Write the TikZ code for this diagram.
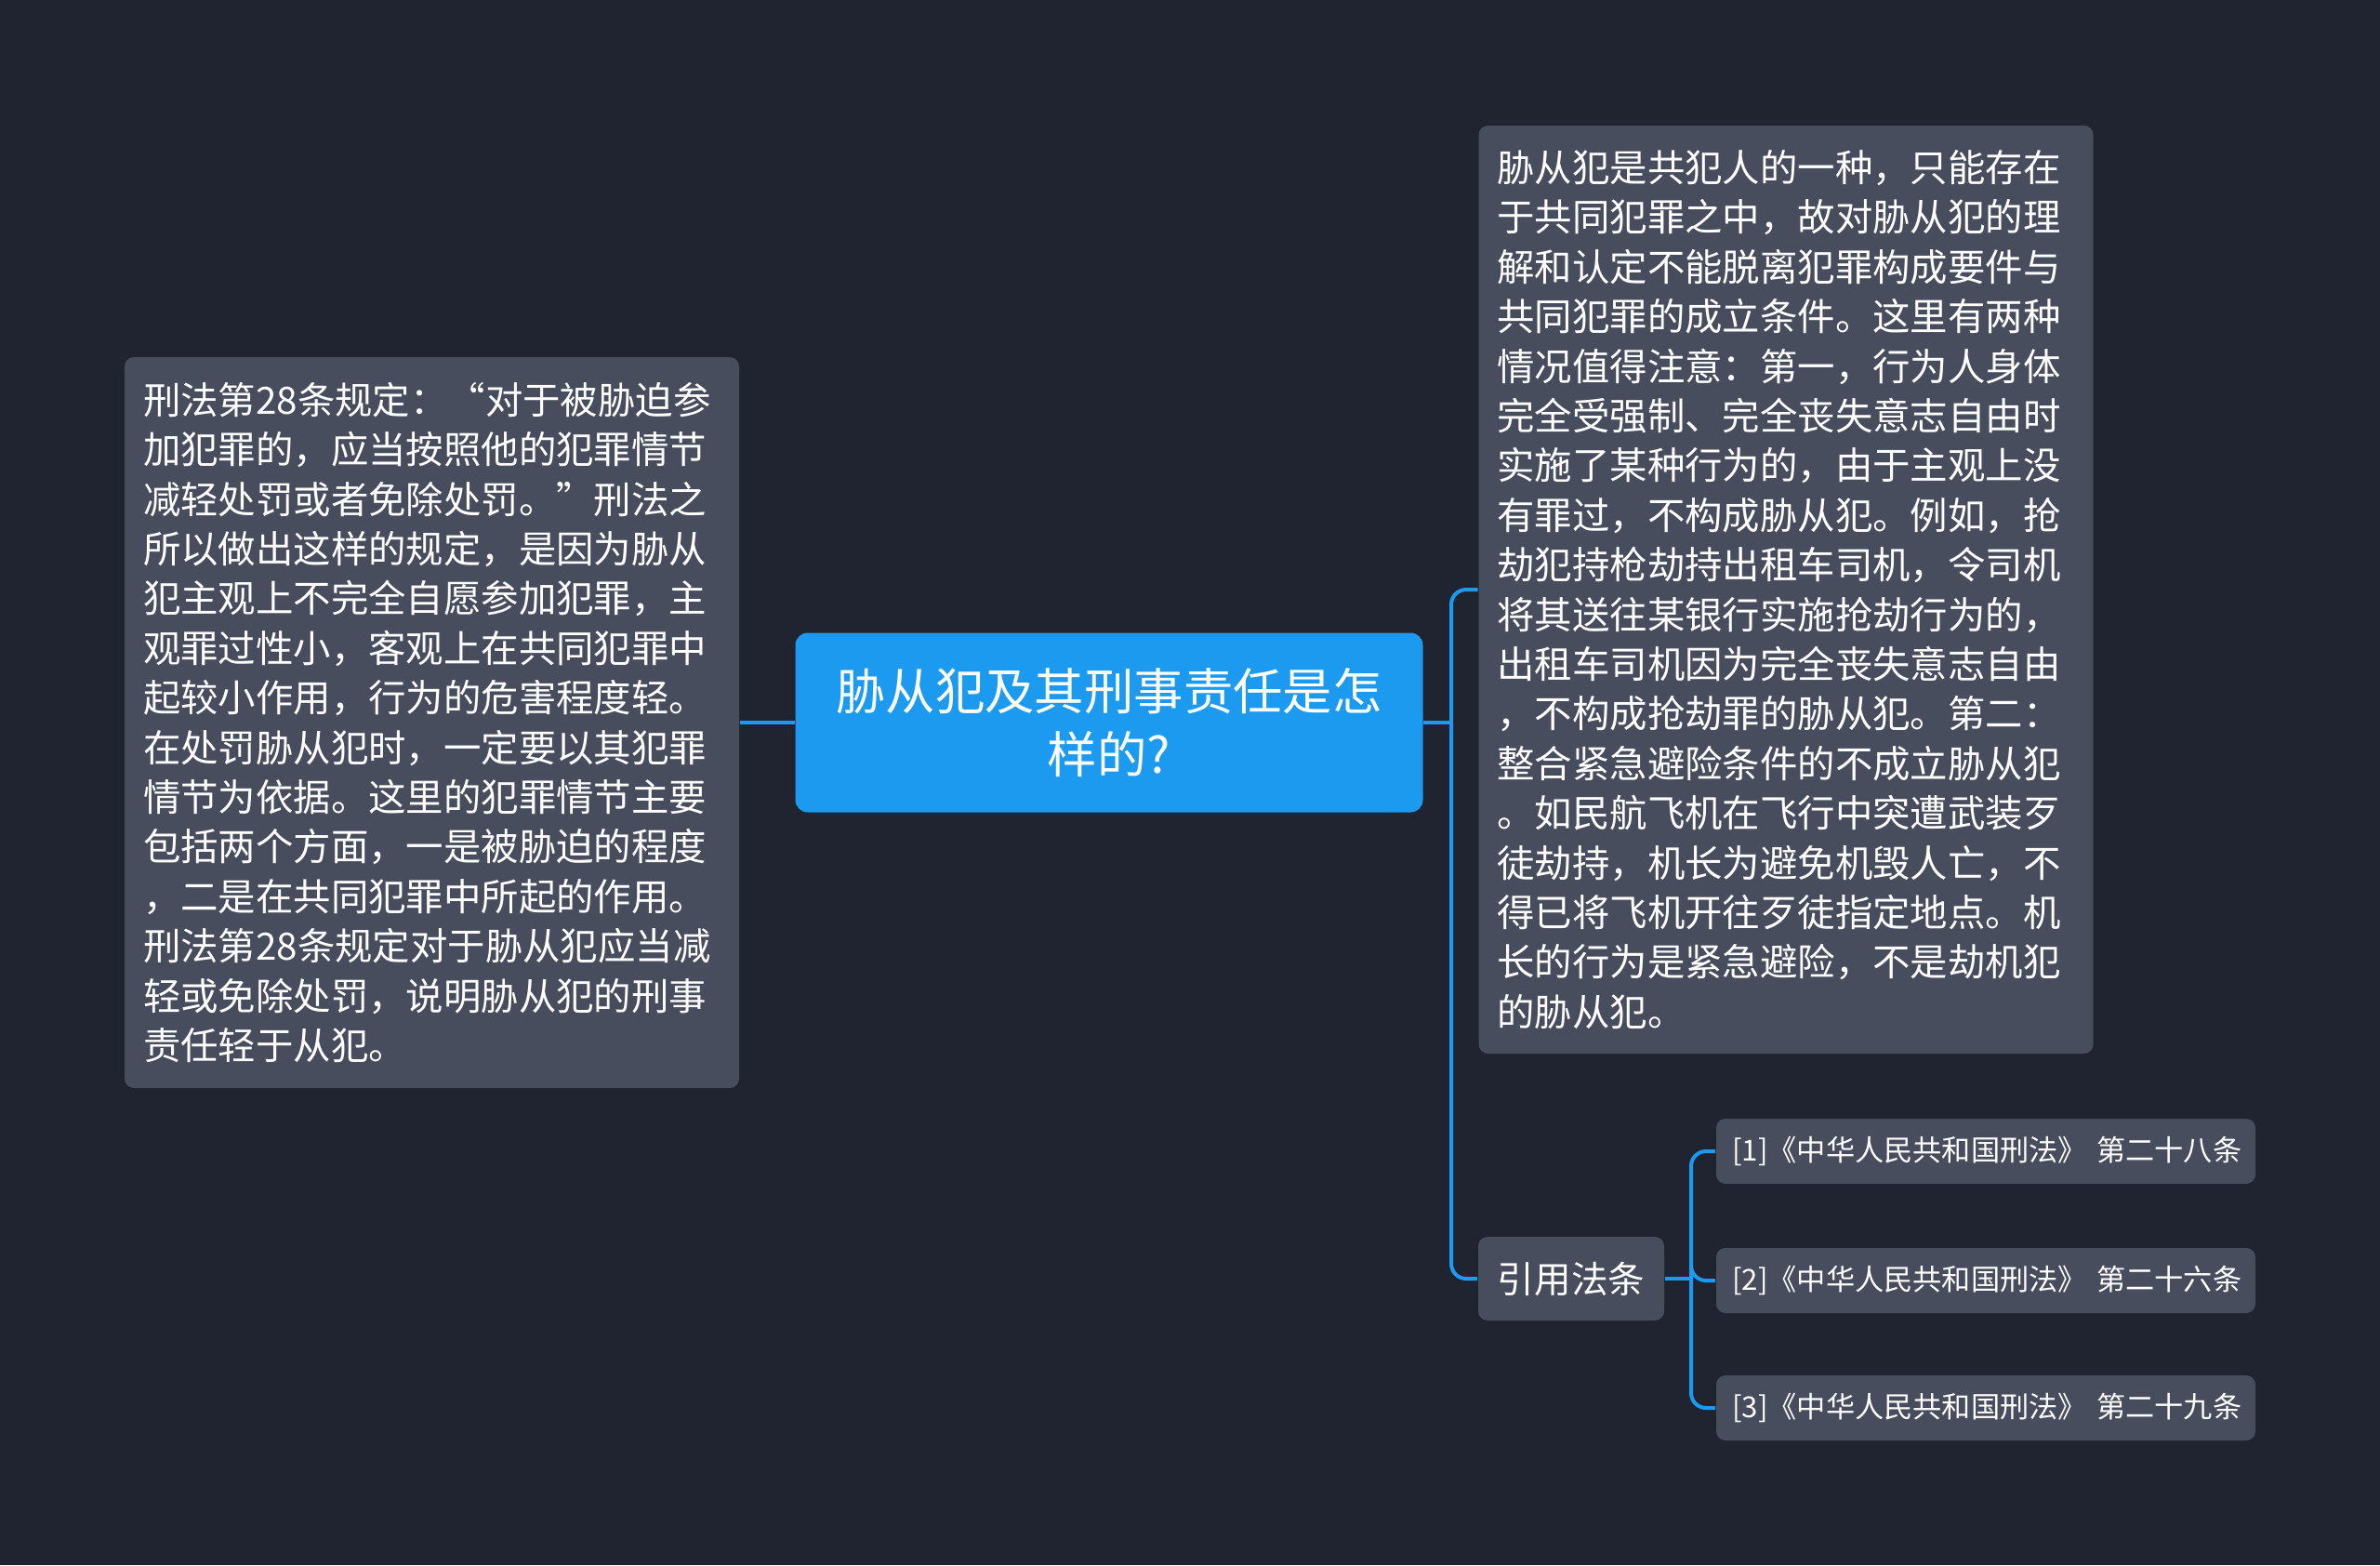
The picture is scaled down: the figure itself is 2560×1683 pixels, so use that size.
\documentclass[tikz,border=0pt]{standalone}
\usepackage{fontspec}
\usepackage{xcolor}
\usepackage{tikz}
\usetikzlibrary{positioning}
\setmainfont{Noto Sans CJK SC}
\definecolor{bgdark}{RGB}{32, 36, 48}
\definecolor{boxgray}{RGB}{71, 77, 92}
\definecolor{mainblue}{RGB}{27, 154, 240}

\begin{document}
\begin{tikzpicture}[x=0.25pt, y=-0.25pt,
    topic/.style={fill=mainblue, rounded corners=3.3pt, text=white, align=center,
        minimum width=168.75pt, minimum height=48.25pt, font=\fontsize{13.35pt}{17.1pt}\selectfont},
    textbox/.style={fill=boxgray, rounded corners=2.5pt, text=white, align=left,
        inner xsep=5pt, text width=155.25pt, font=\fontsize{10.1pt}{13.35pt}\selectfont},
    refbox/.style={fill=boxgray, rounded corners=2.5pt, text=white,
        minimum width=50pt, minimum height=22.5pt, font=\fontsize{9.9pt}{12pt}\selectfont},
    citebox/.style={fill=boxgray, rounded corners=2.5pt, text=white, align=left,
        inner xsep=4.3pt, text width=136.4pt, minimum height=17.5pt, font=\fontsize{7.8pt}{9pt}\selectfont},
    link/.style={draw=mainblue, line width=1pt, rounded corners=4pt}]
        % 背景
        \useasboundingbox (0,0) rectangle (2560,1683);
        \fill[bgdark] (0,0) rectangle (2560,1683);

        % 中心主题
        \node[topic] (main) at (1193,777) {胁从犯及其刑事责任是怎\\样的?};

        % 左侧说明
        \node[textbox, minimum height=196.5pt] (left) at (464.5,777) {刑法第28条规定：“对于被胁迫参\\加犯罪的，应当按照他的犯罪情节\\减轻处罚或者免除处罚。”刑法之\\所以做出这样的规定，是因为胁从\\犯主观上不完全自愿参加犯罪，主\\观罪过性小，客观上在共同犯罪中\\起较小作用，行为的危害程度轻。\\在处罚胁从犯时，一定要以其犯罪\\情节为依据。这里的犯罪情节主要\\包括两个方面，一是被胁迫的程度\\，二是在共同犯罪中所起的作用。\\刑法第28条规定对于胁从犯应当减\\轻或免除处罚，说明胁从犯的刑事\\责任轻于从犯。};

        % 右侧说明
        \node[textbox, minimum height=249.5pt] (right) at (1921,634) {胁从犯是共犯人的一种，只能存在\\于共同犯罪之中，故对胁从犯的理\\解和认定不能脱离犯罪构成要件与\\共同犯罪的成立条件。这里有两种\\情况值得注意：第一，行为人身体\\完全受强制、完全丧失意志自由时\\实施了某种行为的，由于主观上没\\有罪过，不构成胁从犯。例如，抢\\劫犯持枪劫持出租车司机，令司机\\将其送往某银行实施抢劫行为的，\\出租车司机因为完全丧失意志自由\\，不构成抢劫罪的胁从犯。第二：\\整合紧急避险条件的不成立胁从犯\\。如民航飞机在飞行中突遭武装歹\\徒劫持，机长为避免机毁人亡，不\\得已将飞机开往歹徒指定地点。机\\长的行为是紧急避险，不是劫机犯\\的胁从犯。};

        % 引用法条
        \node[refbox] (law) at (1690,1375) {引用法条};
        \node[citebox] (cite1) at (2136,1238) {[1]《中华人民共和国刑法》~第二十八条};
        \node[citebox] (cite2) at (2136,1377) {[2]《中华人民共和国刑法》~第二十六条};
        \node[citebox] (cite3) at (2136,1514) {[3]《中华人民共和国刑法》~第二十九条};

        % 连线
        \coordinate (hubA) at (1561,777);
        \coordinate (hubB) at (1819,1377);
        \draw[link] (left.east) -- (main.west);
        \draw[link] (main.east) -- (hubA);
        \draw[link] (hubA) |- (right.west);
        \draw[link] (hubA) |- (law.west);
        \draw[link] (law.east) -- (hubB |- law.east);
        \draw[link] (hubB |- law.east) |- (cite1.west);
        \draw[link] (hubB |- law.east) |- (cite2.west);
        \draw[link] (hubB |- law.east) |- (cite3.west);
    \end{tikzpicture}
\end{document}
